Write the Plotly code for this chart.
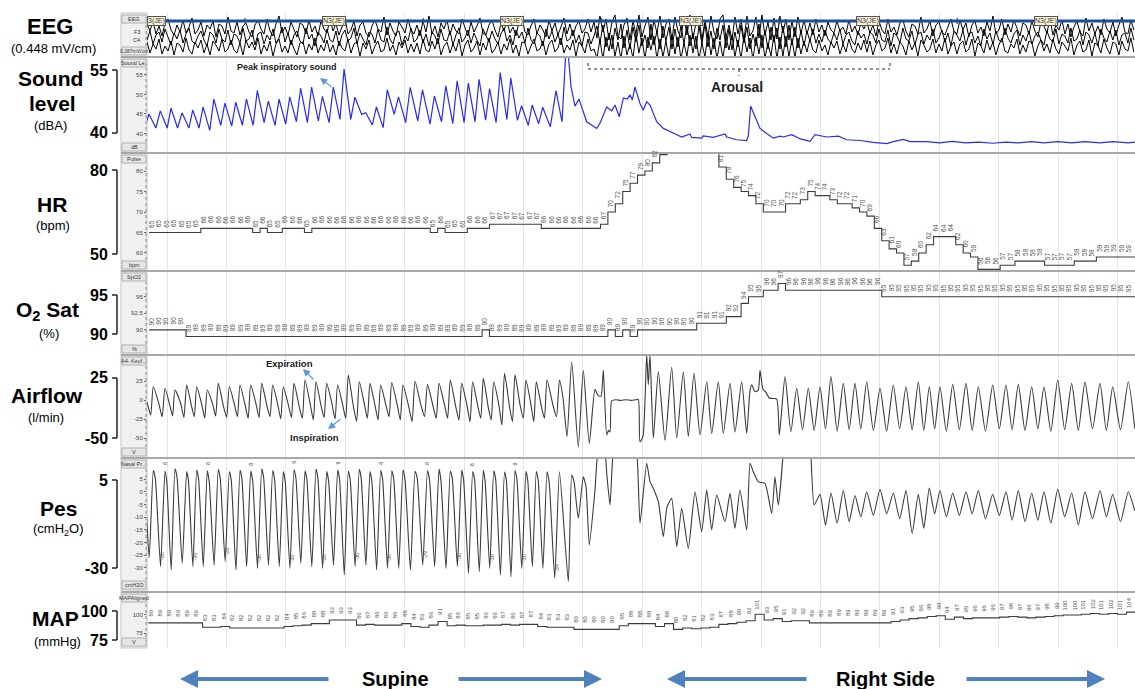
import plotly.graph_objects as go

W, H = 1135, 689
FONT = "Liberation Sans, Arial, sans-serif"

# ============================ DATA ============================
T_END = 166.33                 # seconds shown
GRID_T0, GRID_DT = 3.37, 10    # vertical grid every 10 s

# --- hypnogram (30 s epochs) ---
epoch_start = [-13.5, 16.5, 46.5, 76.5, 106.4, 136.4]
epoch_stage = ["N3(JE)", "N3(JE)", "N3(JE)", "N3(JE)", "N3(JE)", "N3(JE)"]
EPOCH_LEN = 30

# --- EEG (three derivations, relative amplitude, one sample every 0.505 s) ---
eeg_dt = 0.505
eeg_ch1 = [4,-3,7,-6,2,-8,5,9,-2,-7,3,-4,8,-5,1,10,-6,-2,6,-8,3,-1,7,-9,4,2,-6,11,-3,-5,
           6,-7,2,5,-4,-9,3,8,-1,-6,9,-3,-8,4,12,-5,1,-7,6,-2,-9,5,3,-6,8,-4,2,-8,7,-1,
           -5,9,-3,4,-7,1,10,-6,-2,7,-8,3,6,-5,-9,2,8,-1,-4,11,-7,5,-3,-8,6,1,-5,9,-2,-6,
           3,-8,7,-4,12,-6,2,-9,5,-1,8,-7,4,-3,-6,9,1,-8,6,-4,2,10,-5,-7,3,8,-2,-9,5,-3,
           7,-5,1,-8,6,11,-4,-7,2,9,-6,3,-2,-9,8,-3,5,-7,1,10,-6,4,-8,2,7,-5,-1,9,-4,6,
           -10,12,-4,9,-12,6,13,-8,-11,3,10,-12,7,-6,13,-9,2,11,-12,8,-5,12,-10,4,9,-12,11,-3,-10,12,
           -7,13,-11,5,10,-12,8,-9,12,-4,-11,9,13,-10,3,-12,11,-6,9,-12,12,-8,-3,11,-10,13,-7,6,-12,10,
           -11,12,-5,9,-12,7,-9,11,-6,8,-6,5,-7,9,-4,3,-8,6,-2,-5,7,-3,1,-6,8,-4,2,-7,5,-1,
           6,-5,3,-8,7,-2,-6,9,-4,1,-7,5,8,-3,-9,4,2,-6,11,-5,-1,7,-8,3,6,-4,-7,2,9,-3,
           -6,8,-2,5,-9,3,7,-5,1,-8,6,-3,12,-6,-2,9,-7,4,-4,8,-1,-8,5,3,-6,7,-3,-9,6,2,
           -5,9,-7,3,-2,8,-6,4,-9,1,7,-4,-8,10,-3,5,-6,2,-7,9,-1,-5,6,-8,3,11,-4,-6,8,-2]
eeg_ch2 = [-3,6,-7,2,5,-5,8,-1,-8,4,-2,7,-6,3,9,-4,-7,1,6,-3,-9,5,2,-6,8,-2,-5,7,-8,3,
           1,-6,9,-4,-2,7,-8,3,5,-7,2,-3,8,-6,-1,10,-5,4,-8,2,6,-4,-7,9,-2,3,-9,5,1,-6,
           8,-3,-5,6,-9,2,7,-4,-1,9,-7,4,-2,-8,5,3,-6,8,-3,-5,10,-2,-7,4,6,-8,1,-4,9,-5,
           -2,7,-6,3,-9,5,1,-7,8,-3,-4,6,-8,2,9,-5,-1,7,-6,4,-3,-9,8,1,-5,6,-2,-7,3,9,
           -4,2,-8,7,-1,5,-6,9,-3,-7,4,1,-9,8,-2,6,-5,3,-8,10,-4,-2,7,-6,2,-9,5,4,-7,1,
           11,-6,12,-10,4,-12,9,-3,13,-11,7,-12,10,-5,12,-9,2,-11,13,-8,6,-12,11,-4,10,-12,8,-10,12,-7,
           12,-9,4,-12,11,-7,13,-10,6,-12,9,-3,12,-11,8,-13,5,-10,12,-6,10,-12,3,-9,13,-11,7,-12,10,-5,
           9,-12,11,-10,12,-8,10,-11,7,-9,6,-4,8,-6,3,-5,7,-2,-6,4,-3,8,-7,2,5,-4,-8,6,-1,3,
           -7,5,2,-6,8,-3,-5,7,-9,4,1,-6,9,-2,-4,6,-8,3,5,-7,2,-3,8,-6,-1,7,-5,4,-9,6,
           2,-4,7,-8,3,5,-6,1,-9,8,-2,4,-7,6,-3,-5,9,-1,-6,3,7,-8,2,-4,6,-7,1,5,-3,-8,
           6,-2,-5,8,-7,3,1,-6,9,-4,-2,7,-8,5,2,-6,4,-9,8,-1,-5,6,-3,7,-8,2,4,-6,9,-3]
eeg_ch3 = [5,-6,3,-2,8,-7,1,-4,6,-8,4,2,-5,9,-3,-7,5,-1,7,-6,3,-8,6,2,-4,8,-5,-2,7,-3,
           -6,4,-8,7,-1,5,-3,9,-7,2,-4,6,-9,3,8,-5,1,-6,7,-2,-8,4,5,-7,3,-3,9,-6,2,-4,
           7,-5,2,-8,6,-1,-4,8,-6,3,5,-9,4,-2,7,-7,1,6,-5,-3,9,-4,2,-8,5,-1,7,-6,3,-5,
           4,-7,8,-3,-5,6,-2,9,-8,1,5,-6,3,-4,8,-9,2,7,-5,-1,6,-8,4,-3,9,-6,-2,5,-7,3,
           -3,8,-6,2,-9,5,4,-7,1,8,-4,-2,6,-8,3,7,-5,-1,9,-6,2,-3,7,-9,5,1,-6,8,-4,-2,
           -11,7,-12,10,-4,12,-9,5,-12,11,-8,3,-11,13,-6,9,-12,10,-3,11,-12,8,-10,6,-11,12,-7,10,-12,4,
           -9,12,-6,11,-12,4,-10,13,-8,9,-12,6,-11,10,-3,12,-10,7,-12,11,-5,9,-13,10,-7,12,-11,4,-9,12,
           -12,10,-9,11,-10,8,-11,9,-7,6,-5,8,-3,-6,7,-4,2,-8,5,-1,6,-7,3,-5,8,-2,-6,4,-3,7,
           -5,6,-8,2,7,-4,-1,9,-6,3,-7,5,1,-8,6,-3,4,-9,7,2,-5,-2,8,-6,3,-4,9,-7,1,5,
           -7,3,6,-5,-2,8,-9,4,1,-6,7,-3,5,-8,2,9,-4,-6,3,-1,8,-7,2,-5,6,4,-9,1,7,-4,
           3,-6,8,-2,-7,5,1,-4,9,-8,2,6,-5,-3,7,-9,4,2,-6,8,-1,-7,5,3,-8,6,-2,-4,9,-5]

# --- supine regular breathing: time of each expiratory flow peak (s) ---
sup_t = [-0.77, 1.06, 3.03, 4.71, 6.68, 8.37, 10.15, 12.00, 13.86, 15.66,
         17.46, 19.31, 21.16, 22.95, 24.75, 26.60, 28.45, 30.25, 32.10, 33.89,
         35.74, 37.54, 39.34, 41.20, 43.10, 45.12, 47.22, 49.16, 51.06, 52.98,
         54.83, 56.62, 58.37, 60.19, 61.95, 63.80, 65.54, 67.34]
flow_pk = [14, 17.5, 15.4, 13.2, 19.7, 17.5, 13.2, 21.9, 17.5, 19.7,
           19.7, 21.9, 19.7, 17.5, 21.9, 26.3, 24.1, 21.9, 19.7, 32.9,
           24.1, 21.9, 19.7, 23.0, 19.7, 24.6, 20.2, 21.9, 26.3, 21.9,
           24.1, 28.5, 24.1, 35.0, 33.0, 26.3, 24.1, 26.3]
flow_notch = [-6, -5, -7, -4, -8, -6, -5, -9, -6, -7, -5, -8, -6, -7, -9, -6, -8, -5, -7, -10,
              -6, -8, -7, -6, -9, -7, -8, -6, -9, -7, -8, -10, -7, -9, -8, -6, -9, -7]
flow_tr = [-20, -22, -21, -23, -22, -24, -21, -23, -22, -24,
           -23, -22, -25, -23, -24, -26, -23, -25, -24, -28,
           -24, -26, -22, -26.3, -28.5, -21.9, -24.1, -24.1, -26.3, -28.5,
           -24.1, -26.3, -32.9, -28.5, -24.1, -28.5, -24.1, -22.0]
pes_pk = [7.5, 8.5, 8.2, 9.0, 8.0, 8.6, 8.3, 8.8, 7.9, 8.5, 8.2, 9.0, 8.4, 8.0, 8.7, 8.3, 8.9, 8.1, 8.6,
          8.2, 8.8, 8.0, 8.5, 8.3, 8.7, 8.1, 8.4, 8.9, 8.2, 8.6, 8.0, 8.5, 8.3, 7.8, 8.4, 8.1, 8.0, 7.9]
pes_notch = [4.5, 5.0, 4.0, 5.5, 4.2, 5.0, 3.8, 5.2, 4.6, 5.0, 4.3, 5.4, 4.8, 3.9, 5.1, 4.5, 5.3, 4.1, 4.9,
             4.4, 5.2, 3.8, 4.7, 5.0, 4.2, 5.3, 4.6, 4.0, 5.1, 4.4, 4.8, 3.9, 5.0, 4.3, 4.7, 4.1, 4.5, 3.5]
pes_tr = [-26.0, -29.5, -30.8, -28.2, -29.5, -29.5, -28.9, -27.5, -30.8, -29.5,
          -30.2, -28.9, -29.5, -30.2, -28.2, -29.5, -30.2, -28.9, -32.8, -29.5,
          -28.9, -30.8, -30.2, -30.2, -30.8, -28.9, -29.5, -30.2, -29.5, -32.1,
          -31.5, -30.2, -32.8, -33.5, -30.2, -29.5, -30.2, -34.1]
snd_tr = [41.5, 41.4, 41.4, 41.4, 41.4, 41.4, 40.8, 42.1, 41.9, 42.1,
          42.1, 42.8, 42.1, 42.4, 43.0, 42.8, 43.2, 42.8, 43.6, 43.6,
          44.9, 42.2, 41.5, 44.9, 42.8, 43.2, 42.4, 43.0, 42.5, 42.8,
          43.0, 43.4, 42.8, 43.6, 43.4, 42.1, 42.5, 41.7]
snd_pk = [45.0, 45.8, 46.5, 45.3, 46.0, 46.8, 48.8, 47.8, 48.0, 48.8,
          51.0, 48.3, 48.8, 49.4, 51.6, 51.9, 49.5, 51.9, 56.5, 49.3,
          45.3, 46.8, 51.2, 49.4, 51.8, 51.2, 49.6, 52.2, 53.5, 52.9,
          53.9, 51.5, 55.6, 54.2, 47.1, 47.3, 46.7, 51.0]

# --- arousal / position change (irregular) ---
aro_flow_t = [69.44, 70.03, 70.71, 71.50, 72.61, 73.45, 74.46, 75.42, 75.93, 76.43,
              76.82, 77.39, 77.69, 77.95, 78.23, 78.96, 79.80, 80.64, 81.48, 82.32,
              82.71, 83.00, 83.50, 84.12, 84.39, 84.68, 85.24, 86.08, 87.21, 88.33,
              89.18, 90.29, 91.13, 92.09, 93.10, 94.23, 95.07, 96.18, 97.02, 98.15,
              98.99, 100.12, 100.96, 101.52, 101.80, 102.36, 102.91, 103.20, 103.70, 104.21,
              104.71, 105.22, 106.01, 106.45]
aro_flow = [26.3, 3, -48, 50, -62, 39, -57, 14, 6, 5,
            39, -46, -40, -42, -1, 0.3, -0.6, 0.4, -0.5, 0.3,
            0.8, -55, -48, 60, 20, 60, -50, 37, -53, 43,
            -50, 37, -48, 35, -46, 24, -44, 24, -44, 22,
            -42, 24, -44, 13, 20, 11, 13, 39, 14, 10,
            3, 2, 1, -46]
aro_pes_t = [69.44, 70.93, 71.50, 71.89, 72.61, 73.45, 73.91, 74.46, 75.42, 75.98,
             76.94, 77.44, 77.95, 78.50, 79.63, 81.31, 82.44, 83.00, 84.12, 84.68,
             85.24, 86.08, 86.92, 87.54, 88.33, 89.18, 90.02, 91.13, 92.26, 93.38,
             94.23, 95.07, 95.91, 97.31, 98.15, 98.99, 99.83, 100.96, 101.52, 102.07,
             102.91, 104.04, 105.17, 105.72, 106.28, 107.12]
aro_pes = [7.9, -35.4, 6.6, 4, -10.5, 5.9, 2, -21, 0.7, 16,
           18, 6, -5.2, 16, 25, 25, 16, -12.4, 11.2, 4,
           1.3, -3.9, -17.7, -6, -2.6, -21.6, -6.5, -22.3, 0, -15.7,
           0.7, -15, -1.3, -11.8, -0.6, -14.4, 0.7, -15, 11.2, 7.9,
           3.9, 3.3, -8.5, 5.9, -5.2, 16]
snd_aro_t = [69.87, 70.54, 70.88, 71.38, 72.05, 72.73, 74.02, 75.71, 76.26, 77.39,
             78.23, 78.79, 79.51, 80.19, 80.86, 81.31, 81.70, 82.15, 83.00, 83.55,
             84.12, 84.68, 85.81, 86.92, 88.05, 89.44, 90.02, 91.41, 91.70, 93.38,
             93.65, 95.34, 97.31, 97.59, 99.28, 100.96, 101.23, 101.63, 102.64, 103.20,
             104.33, 105.44, 106.57, 107.12, 108.54, 110.00, 111.62, 112.46, 114.43, 116.38,
             117.79, 120.03, 122.27, 124.53, 125.64, 127.32, 128.45, 131.26, 133.40, 135.60,
             137.80, 140.00, 142.40, 144.60, 146.70, 148.90, 151.00, 153.30, 155.70, 157.90,
             160.40, 162.60, 165.20, 166.33]
snd_aro = [43.0, 62, 61, 52, 47.0, 48.8, 43.0, 41.3, 42.6, 46.8,
           45.8, 47.3, 44.3, 49.1, 48.8, 49.9, 48.6, 51.9, 47.7, 46.0,
           48.1, 47.3, 43.0, 41.3, 40.5, 39.6, 39.1, 39.9, 39.0, 38.8,
           39.4, 39.0, 39.9, 39.1, 38.4, 38.2, 39.4, 47.0, 43.4, 41.3,
           40.0, 38.8, 39.3, 39.1, 39.7, 38.6, 38.0, 39.7, 39.1, 39.3,
           38.4, 38.2, 37.7, 37.4, 37.9, 38.5, 37.9, 37.9, 37.6, 38.0,
           37.6, 37.8, 37.5, 37.8, 37.6, 37.9, 37.6, 37.9, 37.6, 37.9,
           37.6, 37.9, 37.6, 37.8]

# --- right side regular breathing ---
rs_t = [107.41, 109.38, 111.33, 113.30, 115.15, 117.22, 119.19, 121.16, 123.40, 125.64,
        127.78, 129.85, 131.70, 133.50, 135.64, 137.88, 139.95, 142.37, 144.61, 146.68,
        148.94, 151.01, 153.32, 155.67, 157.91, 160.44, 162.58, 165.20]
rs_end_t = 167.4
rs_flow_pk = [30.7, 15.4, 15.4, 17.5, 30.7, 21.9, 21.9, 24.1, 15.4, 19.7,
              17.5, 24.1, 17.5, 17.5, 20.6, 21.9, 17.5, 19.7, 19.7, 20.6,
              17.5, 17.5, 26.3, 21.9, 24.1, 21.9, 17.5, 24.1]
rs_flow_tr = [-41.7, -39, -40, -38, -41, -39, -38, -40, -41, -38,
              -39, -40, -38, -41, -39, -40, -41, -38, -39, -40,
              -38, -41, -39, -40, -38, -40, -39, -38]
rs_pes_pk = [30, 30, 30, -1.0, -0.5, 0.5, -1.5, 0.0, 1.0, -0.5,
             0.5, -1.0, 1.5, 0.5, -0.5, 0.0, 0.5, -1.0, 0.0, 0.5,
             -0.5, 0.0, 1.0, -0.5, 0.0, 0.5, -1.0, 0.0]
rs_pes_tr = [25, 25, -5.2, -13.1, -12.4, -11.8, -9.9, -9.3, -8.7, -10.6,
             -16.4, -14.4, -8.7, -9.9, -9.3, -8.7, -10.6, -9.3, -11.2, -11.8,
             -11.2, -12.4, -9.9, -13.1, -10.6, -9.9, -11.8, -7.5]

# --- pulse rate, SpO2 (sampled every 1.246 s) and MAP (every 1.525 s) ---
hr_t0, hr_dt = 0.34, 1.246
hr_bpm = [65, 65, 65, 65, 65, 65, 65, 66, 66, 66, 66, 66, 66, 66, 65, 66, 65, 65, 66, 66,
          66, 65, 66, 66, 66, 66, 66, 66, 66, 66, 66, 66, 66, 66, 66, 66, 66, 66, 65, 66,
          65, 65, 65, 66, 66, 66, 67, 67, 67, 67, 67, 67, 67, 66, 66, 66, 66, 66, 66, 66,
          66, 67, 70, 72, 75, 77, 79, 80, 82, 84, 86, 88, 89, 89, 88, 87, 85, 81, 78, 76,
          75, 74, 72, 70, 70, 70, 72, 72, 73, 75, 74, 74, 73, 72, 72, 71, 70, 69, 66, 63,
          61, 60, 57, 58, 60, 62, 64, 64, 64, 62, 60, 59, 56, 56, 56, 57, 57, 58, 58, 58,
          58, 57, 57, 57, 57, 58, 58, 58, 59, 59, 59, 59, 59, 59]
spo2_pct = [90, 90, 90, 90, 90, 89, 89, 89, 89, 89, 89, 89, 89, 89, 89, 89, 89, 89, 89, 89,
            89, 89, 89, 89, 89, 89, 89, 89, 89, 89, 89, 89, 89, 89, 89, 89, 89, 89, 89, 89,
            89, 89, 89, 89, 89, 90, 89, 89, 89, 89, 89, 89, 89, 89, 89, 89, 89, 89, 89, 89,
            89, 89, 90, 89, 90, 89, 90, 90, 90, 90, 90, 90, 90, 90, 91, 91, 91, 91, 92, 92,
            94, 95, 95, 96, 96, 97, 96, 96, 96, 96, 96, 96, 96, 96, 96, 96, 96, 96, 96, 95,
            95, 95, 95, 95, 95, 95, 95, 95, 95, 95, 95, 95, 95, 95, 95, 95, 95, 95, 95, 95,
            95, 95, 95, 95, 95, 95, 95, 95, 95, 95, 95, 95, 95, 95]
map_t0, map_dt = 0.2, 1.525
map_mmhg = [89, 89, 89, 89, 89, 89, 83, 83, 84, 82, 82, 82, 82, 82, 82, 84, 85, 86, 88, 88,
            93, 93, 93, 86, 87, 86, 86, 86, 88, 84, 83, 86, 91, 85, 86, 85, 85, 86, 86, 87,
            86, 87, 87, 84, 83, 83, 83, 80, 80, 80, 80, 80, 85, 88, 88, 88, 84, 88, 80, 82,
            81, 82, 83, 87, 88, 90, 92, 101, 93, 95, 91, 92, 92, 89, 89, 89, 89, 89, 89, 89,
            89, 89, 91, 93, 95, 96, 98, 99, 94, 97, 95, 96, 96, 96, 97, 98, 97, 96, 97, 98,
            99, 100, 100, 101, 102, 101, 102, 101, 104]

# ============================ HELPERS ============================
def X(px):
    return px / W


def Y(py):
    return 1 - py / H


def build(times, end_t, parts):
    xs, ys = [], []
    for i, t0 in enumerate(times):
        t1 = times[i + 1] if i + 1 < len(times) else end_t
        for ph, vals in parts:
            xs.append(t0 + ph * (t1 - t0))
            ys.append(vals[i])
    return xs, ys


def pnote(px, py, text, size, color="black", xanchor="center", **kw):
    d = dict(xref="paper", yref="paper", x=X(px), y=Y(py), text=text, showarrow=False,
             xanchor=xanchor, yanchor="middle", font=dict(size=size, color=color, family=FONT))
    d.update(kw)
    ann.append(d)


panels = [
    dict(top=13, bot=57, rng=[0, 44], ticks=[], tl="EEG", bl="0.287mV/cm"),
    dict(top=57, bot=153, rng=[35.0, 59.6], ticks=[40, 45, 50, 55], tl="Sound Le..", bl="dB"),
    dict(top=153, bot=271, rng=[55.6, 84.4], ticks=[60, 65, 70, 75, 80], tl="Pulse", bl="bpm"),
    dict(top=271, bot=355, rng=[86.2, 98.9], ticks=[90, 92.5, 95], tl="SpO2", bl="%"),
    dict(top=355, bot=458, rng=[-76.3, 59.2], ticks=[-50, -25, 0, 25], tl="A4- Keyf...", bl="V"),
    dict(top=458, bot=591, rng=[-39.1, 13.3], ticks=[-30, -25, -20, -15, -10, -5, 0, 5], tl="Nasal Pr...", bl="cmH2O"),
    dict(top=592, bot=648, rng=[54.2, 131.9], ticks=[75, 100], tl="MAPAligned", bl="V"),
]

fig = go.Figure()
layout = {}
ann = []
shapes = []


def ax(k):
    return ("x" if k == 1 else f"x{k}"), ("y" if k == 1 else f"y{k}")


for k, p in enumerate(panels, start=1):
    xn, yn = ax(k)
    xa = dict(domain=[X(147), 1], range=[0, T_END], anchor=yn, showgrid=True,
              gridcolor="#dde6ef", gridwidth=1, tick0=GRID_T0, dtick=GRID_DT,
              showticklabels=False, ticks="", zeroline=False, showline=False, fixedrange=True)
    if k > 1:
        xa["matches"] = "x"
    layout["xaxis" if k == 1 else f"xaxis{k}"] = xa
    layout["yaxis" if k == 1 else f"yaxis{k}"] = dict(
        domain=[Y(p["bot"]), Y(p["top"])], range=p["rng"], anchor=xn,
        tickvals=p["ticks"], ticktext=[str(v) for v in p["ticks"]],
        ticks="outside" if p["ticks"] else "", ticklen=2, tickcolor="#666",
        tickfont=dict(size=6, color="#444", family=FONT),
        showgrid=False, zeroline=False, showline=False, fixedrange=True)
    shapes.append(dict(type="rect", xref="paper", yref="paper", x0=X(121), x1=X(147),
                       y0=Y(p["bot"]), y1=Y(p["top"]), fillcolor="#f0f0f0",
                       line=dict(color="#c4c4c4", width=1), layer="below"))
    shapes.append(dict(type="rect", xref="paper", yref="paper", x0=X(122), x1=X(146),
                       y0=Y(p["top"] + 10), y1=Y(p["top"] + 2), fillcolor="#e6e6e6",
                       line=dict(color="#b0b0b0", width=1), layer="above"))
    shapes.append(dict(type="rect", xref="paper", yref="paper", x0=X(122), x1=X(146),
                       y0=Y(p["bot"] - 2), y1=Y(p["bot"] - 10), fillcolor="#e6e6e6",
                       line=dict(color="#b0b0b0", width=1), layer="above"))
    shapes.append(dict(type="line", xref="paper", yref="paper", x0=X(146), x1=X(146),
                       y0=Y(p["bot"] - 11), y1=Y(p["top"] + 11),
                       line=dict(color="#8a8a8a", width=1, dash="dot")))
    pnote(134, p["top"] + 6, p["tl"], 5.5, "#333")
    pnote(134, p["bot"] - 6, p["bl"], 5.5 if len(p["bl"]) < 8 else 5, "#333")
    if k > 1:
        shapes.append(dict(type="line", xref="paper", yref="paper", x0=X(121), x1=1,
                           y0=Y(p["top"]), y1=Y(p["top"]), line=dict(color="#a8a8a8", width=2)))

for name, py in (("F3", 32), ("C4", 40)):
    pnote(142, py, name, 5.5, "#333", xanchor="right")

# ---------------- EEG ----------------
xn, yn = ax(1)
eeg_t = [i * eeg_dt for i in range(len(eeg_ch1))]
for base, ch in ((29, eeg_ch1), (20, eeg_ch2), (10, eeg_ch3)):
    fig.add_trace(go.Scatter(x=eeg_t, y=[base + v for v in ch], xaxis=xn, yaxis=yn, mode="lines",
                             line=dict(color="black", width=1.0), hoverinfo="skip"))
bar_x = [epoch_start[0], epoch_start[-1] + EPOCH_LEN]
fig.add_trace(go.Scatter(x=bar_x, y=[36, 36], xaxis=xn, yaxis=yn, mode="lines",
                         line=dict(color="#1f4e9c", width=3), hoverinfo="skip"))
tx, ty = [], []
for s in epoch_start[1:]:
    tx += [s, s, None]
    ty += [33, 39, None]
fig.add_trace(go.Scatter(x=tx, y=ty, xaxis=xn, yaxis=yn, mode="lines",
                         line=dict(color="#1f4e9c", width=1.2), hoverinfo="skip"))
for s, stg in zip(epoch_start, epoch_stage):
    mid = s + EPOCH_LEN / 2
    cut = mid < 3
    ann.append(dict(xref=xn, yref=yn, x=0 if cut else mid, y=36, text=stg[1:] if cut else stg,
                    xanchor="left" if cut else "center", yanchor="middle", showarrow=False,
                    bgcolor="#fbf3d5", bordercolor="#555", borderwidth=1, borderpad=0,
                    font=dict(size=7, color="#333", family=FONT)))

# ---------------- Sound ----------------
xn, yn = ax(2)
sx, sy = build(sup_t, snd_aro_t[0], [(0.22, snd_tr), (0.6, snd_pk)])
sx += snd_aro_t
sy += snd_aro
fig.add_trace(go.Scatter(x=sx, y=sy, xaxis=xn, yaxis=yn, mode="lines",
                         line=dict(color="#2a2af0", width=1.2), hoverinfo="skip"))


def step_labels(xn, yn, ts, vals, vmax, size, shift):
    for t, v in zip(ts, vals):
        if v > vmax or t > T_END - 0.8:
            continue
        ann.append(dict(xref=xn, yref=yn, x=t + 0.4, y=v, yshift=shift, text=str(v), textangle=-90,
                        showarrow=False, xanchor="center", yanchor="middle",
                        font=dict(size=size, color="#555", family=FONT)))


# ---------------- HR ----------------
xn, yn = ax(3)
hr_t = [hr_t0 + i * hr_dt for i in range(len(hr_bpm))]
fig.add_trace(go.Scatter(x=hr_t + [T_END], y=hr_bpm + [hr_bpm[-1]], xaxis=xn, yaxis=yn, mode="lines",
                         line=dict(color="#3c3c3c", width=1.1, shape="hv"), hoverinfo="skip"))
step_labels(xn, yn, hr_t, hr_bpm, 83, 6.5, 9)

# ---------------- SpO2 ----------------
xn, yn = ax(4)
sp_t = [hr_t0 + i * hr_dt for i in range(len(spo2_pct))]
fig.add_trace(go.Scatter(x=sp_t + [T_END], y=spo2_pct + [spo2_pct[-1]], xaxis=xn, yaxis=yn, mode="lines",
                         line=dict(color="#3c3c3c", width=1.1, shape="hv"), hoverinfo="skip"))
step_labels(xn, yn, sp_t, spo2_pct, 99, 6.5, 9)

# ---------------- Airflow ----------------
xn, yn = ax(5)
fx, fy = build(sup_t, aro_flow_t[0], [(0, flow_pk), (0.48, flow_notch), (0.76, flow_tr)])
fx += aro_flow_t
fy += aro_flow
rx, ry = build(rs_t, rs_end_t, [(0, rs_flow_pk), (0.5, rs_flow_tr)])
fx += rx
fy += ry
fig.add_trace(go.Scatter(x=fx, y=fy, xaxis=xn, yaxis=yn, mode="lines",
                         line=dict(color="#3a3a3a", width=1.1, shape="spline", smoothing=0.6),
                         hoverinfo="skip"))

# ---------------- Pes ----------------
xn, yn = ax(6)
qx, qy = build(sup_t, aro_pes_t[0], [(0, pes_pk), (0.18, pes_notch), (0.62, pes_tr)])
qx += aro_pes_t
qy += aro_pes
rx, ry = build(rs_t, rs_end_t, [(0, rs_pes_pk), (0.5, rs_pes_tr)])
qx += rx
qy += ry
fig.add_trace(go.Scatter(x=qx, y=qy, xaxis=xn, yaxis=yn, mode="lines",
                         line=dict(color="#3a3a3a", width=1.1, shape="spline", smoothing=0.5),
                         hoverinfo="skip"))
for i, t in enumerate(sup_t[1:], start=1):
    P = (sup_t[i + 1] if i + 1 < len(sup_t) else aro_pes_t[0]) - t
    if i % 3 == 1:
        ann.append(dict(xref=xn, yref=yn, x=t + 0.62 * P + 0.35, y=pes_tr[i] + 4,
                        text=str(round(pes_tr[i])), textangle=-90, showarrow=False,
                        xanchor="center", yanchor="middle",
                        font=dict(size=5.5, color="#555", family=FONT)))
    if i % 4 == 2:
        ann.append(dict(xref=xn, yref=yn, x=t, y=pes_pk[i], yshift=7,
                        text=str(round(pes_pk[i])), textangle=-90, showarrow=False,
                        xanchor="center", yanchor="middle",
                        font=dict(size=5.5, color="#555", family=FONT)))

# ---------------- MAP ----------------
xn, yn = ax(7)
map_t = [map_t0 + i * map_dt for i in range(len(map_mmhg))]
fig.add_trace(go.Scatter(x=map_t + [T_END], y=map_mmhg + [map_mmhg[-1]], xaxis=xn, yaxis=yn, mode="lines",
                         line=dict(color="#3c3c3c", width=1.1, shape="hv"), hoverinfo="skip"))
step_labels(xn, yn, map_t, map_mmhg, 130, 6, 10)

# ---------------- left-hand labels ----------------
def big(px, py, text, size=21, bold=True):
    pnote(px, py, f"<b>{text}</b>" if bold else text, size)


big(50, 27, "EEG", 22)
big(53, 48, "(0.448 mV/cm)", 13, False)
big(50, 79, "Sound")
big(52, 104, "level")
big(50, 125, "(dBA)", 13, False)
big(52, 204, "HR")
big(53, 225, "(bpm)", 13, False)
big(47, 311, "O<sub>2</sub> Sat")
big(49, 333, "(%)", 13, False)
big(47, 395, "Airflow")
big(46, 417, "(l/min)", 13, False)
big(58, 508, "Pes")
big(58, 529, "(cmH<sub>2</sub>O)", 13, False)
big(55, 618, "MAP")
big(57, 641, "(mmHg)", 13, False)

for top_lbl, bot_lbl, y0, y1 in (("55", "40", 70, 133), ("80", "50", 170, 254), ("95", "90", 295, 334),
                                 ("25", "-50", 378, 438), ("5", "-30", 480, 568), ("100", "75", 611, 640)):
    pnote(110, y0, f"<b>{top_lbl}</b>", 16, xanchor="right")
    pnote(110, y1, f"<b>{bot_lbl}</b>", 16, xanchor="right")
    for a, b, c, d in ((117, y0, 117, y1), (112, y0, 117, y0), (112, y1, 117, y1)):
        shapes.append(dict(type="line", xref="paper", yref="paper", x0=X(a), y0=Y(b), x1=X(c), y1=Y(d),
                           line=dict(color="#222", width=1.5)))

# ---------------- in-plot annotations ----------------
def blue_arrow(hx, hy, tx_, ty_):
    ann.append(dict(xref="paper", yref="paper", x=X(hx), y=Y(hy), ax=tx_ - hx, ay=ty_ - hy,
                    axref="pixel", ayref="pixel", text="", showarrow=True, arrowhead=2,
                    arrowsize=1.2, arrowwidth=1.2, arrowcolor="#5b9bd5"))


pnote(287, 67, "<b>Peak inspiratory sound</b>", 9, "#222")
blue_arrow(320, 78, 333, 88)
pnote(289, 363, "<b>Expiration</b>", 9.5, "#222")
blue_arrow(303, 369, 315, 381)
pnote(314, 437, "<b>Inspiration</b>", 9.5, "#222")
blue_arrow(328, 429, 342, 418)

for a, b, c, d in ((588, 69, 890, 69), (588, 63, 588, 69), (890, 63, 890, 69), (739, 69, 739, 76)):
    shapes.append(dict(type="line", xref="paper", yref="paper", x0=X(a), y0=Y(b), x1=X(c), y1=Y(d),
                       line=dict(color="#222", width=1, dash="dot")))
pnote(737, 87, "<b>Arousal</b>", 14, "#222")

for hx, tx_ in ((180, 330), (602, 457), (667, 808), (1105, 965)):
    ann.append(dict(xref="paper", yref="paper", x=X(hx), y=Y(679), ax=tx_ - hx, ay=0,
                    axref="pixel", ayref="pixel", text="", showarrow=True, arrowhead=2,
                    arrowsize=0.9, arrowwidth=4, arrowcolor="#4f81bd"))
big(395, 679, "Supine", 20)
big(885, 679, "Right Side", 20)

layout.update(width=W, height=H, margin=dict(l=0, r=0, t=0, b=0), paper_bgcolor="white",
              plot_bgcolor="white", showlegend=False, annotations=ann, shapes=shapes,
              font=dict(family=FONT))
fig.update_layout(**layout)
fig.write_html("out.html", config={"displayModeBar": False, "staticPlot": True},
               post_script="document.body.style.margin='0px';")
